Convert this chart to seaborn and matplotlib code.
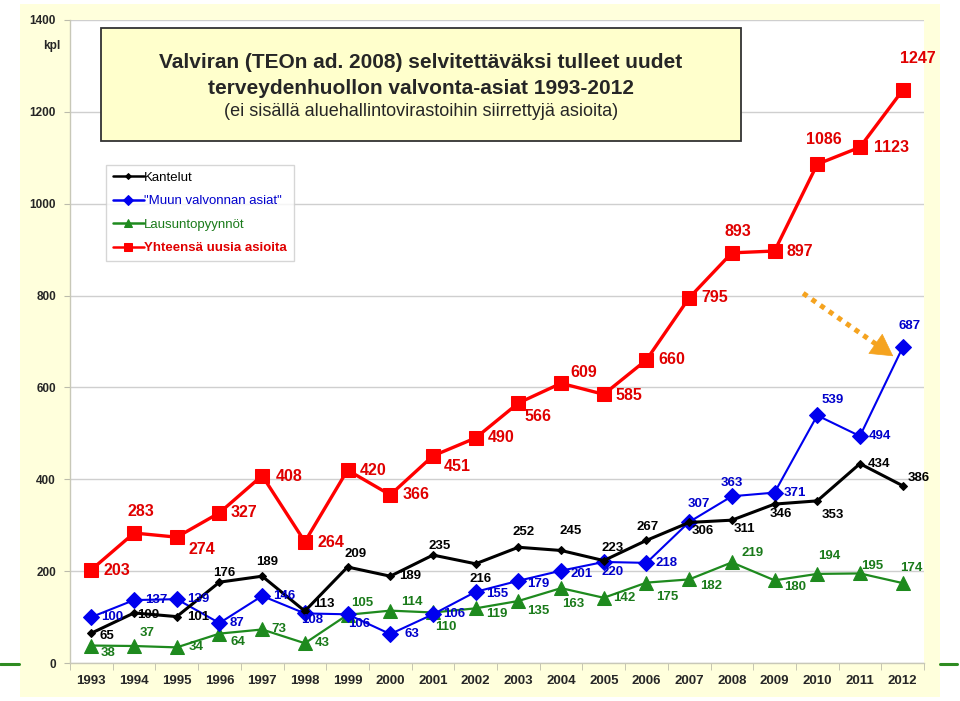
import numpy as np
import pandas as pd
import matplotlib
matplotlib.use('Agg')
import matplotlib.pyplot as plt
from matplotlib.patches import Rectangle
from matplotlib.lines import Line2D
import seaborn as sns


years = list(range(1993, 2013))
kantelut = [65, 109, 101, 176, 189, 113, 209, 189, 235, 216, 252, 245, 223, 267, 306, 311, 346, 353, 434, 386]
muun = [100, 137, 139, 87, 146, 108, 106, 63, 106, 155, 179, 201, 220, 218, 307, 363, 371, 539, 494, 687]
lausunto = [38, 37, 34, 64, 73, 43, 105, 114, 110, 119, 135, 163, 142, 175, 182, 219, 180, 194, 195, 174]
yhteensa = [203, 283, 274, 327, 408, 264, 420, 366, 451, 490, 566, 609, 585, 660, 795, 893, 897, 1086, 1123, 1247]

names = ['Kantelut', '"Muun valvonnan asiat"', 'Lausuntopyynnöt', 'Yhteensä uusia asioita']

title_lines = ['Valviran (TEOn ad. 2008) selvitettäväksi tulleet uudet',
               'terveydenhuollon valvonta-asiat 1993-2012',
               '(ei sisällä aluehallintovirastoihin siirrettyjä asioita)']

# label offsets in pixels (dx right, dy down) from each point
off_k = [(16, 3), (14, 2), (21, 0), (5, -9), (5, -14), (19, -7), (8, -13), (20, 0), (7, -9), (5, 15),
         (5, -15), (10, -19), (9, -13), (1, -13), (14, 9), (13, 9), (6, 10), (16, 14), (19, 0), (16, -8)]
off_m = [(21, 0), (22, 0), (22, 0), (18, 0), (22, 0), (7, 7), (12, 10), (22, 0), (21, 0), (22, 2),
         (20, 3), (21, 3), (9, 10), (20, 0), (10, -18), (0, -13), (20, 0), (15, -15), (20, 0), (7, -21)]
off_l = [(17, 7), (13, -13), (19, 0), (18, 8), (17, 0), (17, 0), (15, -12), (22, -9), (13, 15), (21, 6),
         (20, 10), (12, 16), (21, 0), (21, 14), (22, 7), (21, -9), (21, 7), (12, -18), (12, -7), (9, -15)]
off_y = [(26, 1), (7, -22), (25, 12), (25, 0), (27, 1), (26, 1), (26, 0), (26, 0), (24, 11), (25, 0),
         (20, 13), (23, -11), (25, 1), (25, 0), (26, 0), (6, -21), (25, 0), (7, -25), (32, 0), (15, -32)]

# orange hint arrow (data coords)
arrow_start = np.array([2009.67, 805])
arrow_end = np.array([2011.78, 668])
arrow_base = arrow_start + 0.83 * (arrow_end - arrow_start)

c_black = '#000000'; c_blue = '#0000EE'; c_green = '#1E8A1E'; c_red = '#FF0000'
t_blue = '#0000CC'; t_green = '#1A7A1A'; t_red = '#E00000'; c_orange = '#F5A31F'

sns.set_style('white')
plt.rcParams['font.family'] = ['Liberation Sans', 'DejaVu Sans']

W, H = 960, 701
fig = plt.figure(figsize=(9.6, 7.01), dpi=100)
fig.patch.set_facecolor('white')

# yellow frame behind everything
fig.add_artist(Rectangle((20 / W, 1 - 697 / H), 920 / W, 693 / H, transform=fig.transFigure,
                         facecolor='#FFFFDC', edgecolor='none', zorder=-2))
# small green decor strokes
fig.add_artist(Line2D([0, 19 / W], [1 - 664 / H] * 2, transform=fig.transFigure, color='#2E8B22', lw=2.2))
fig.add_artist(Line2D([940 / W, 957 / W], [1 - 664 / H] * 2, transform=fig.transFigure, color='#2E8B22', lw=2.2))

ax = fig.add_axes([70 / W, 1 - 663 / H, 854 / W, 643 / H])
ax.set_facecolor('white')

df = pd.DataFrame({'year': years, 'k': kantelut, 'm': muun, 'l': lausunto, 'y': yhteensa})

sns.lineplot(data=df, x='year', y='k', color=c_black, lw=2.2, marker='D', markersize=4,
             markeredgecolor=c_black, label=names[0], ax=ax, zorder=4)
sns.lineplot(data=df, x='year', y='m', color=c_blue, lw=1.5, marker='D', markersize=8,
             markeredgecolor=c_blue, label=names[1], ax=ax, zorder=3)
sns.lineplot(data=df, x='year', y='l', color=c_green, lw=1.6, marker='^', markersize=10,
             markeredgecolor=c_green, label=names[2], ax=ax, zorder=2)
sns.lineplot(data=df, x='year', y='y', color=c_red, lw=2.4, marker='s', markersize=10,
             markeredgecolor=c_red, label=names[3], ax=ax, zorder=5)

for vals, offs, col, size in [(kantelut, off_k, c_black, 9.5), (muun, off_m, t_blue, 9.5),
                              (lausunto, off_l, t_green, 9.5), (yhteensa, off_y, t_red, 11.5)]:
    for x, v, (dx, dy) in zip(years, vals, offs):
        ax.annotate(str(v), (x, v), xytext=(dx, -dy), textcoords='offset pixels',
                    ha='center', va='center', fontsize=size, fontweight='bold', color=col, zorder=6)

# dotted shaft + solid head
ax.plot([arrow_start[0], arrow_base[0]], [arrow_start[1], arrow_base[1]], color=c_orange, lw=3.6,
        linestyle=(0, (1, 1.1)), solid_capstyle='butt', dash_capstyle='butt', zorder=6)
ax.annotate('', xy=tuple(arrow_end), xytext=tuple(arrow_base),
            arrowprops=dict(arrowstyle='-|>,head_length=0.75,head_width=0.42', color=c_orange, lw=0.5,
                            mutation_scale=20, shrinkA=0, shrinkB=0), zorder=6)

ax.set_xlim(1992.5, 2012.5)
ax.set_ylim(0, 1400)
ax.set_xticks(years)
ax.set_xticklabels([str(y) for y in years], fontsize=9.5, fontweight='bold')
ax.set_xticks(np.arange(1992.5, 2013, 1), minor=True)
ax.set_yticks(range(0, 1401, 200))
ax.set_yticklabels([str(v) for v in range(0, 1401, 200)], fontsize=8.5, fontweight='bold')
ax.tick_params(axis='x', which='major', length=0, pad=9)
ax.tick_params(axis='x', which='minor', length=5, color='#BBBBAA', direction='out', bottom=True)
ax.tick_params(axis='y', length=4, color='#BBBBAA', direction='out', left=True, pad=6)
ax.set_xlabel(''); ax.set_ylabel('')
ax.yaxis.grid(True, color='#CFCFCF', lw=1)
ax.set_axisbelow(True)
for s in ['top', 'right']:
    ax.spines[s].set_visible(False)
for s in ['left', 'bottom']:
    ax.spines[s].set_color('#C8C8B8'); ax.spines[s].set_linewidth(1)

fig.text(52 / W, 1 - 46 / H, 'kpl', ha='center', va='center', fontsize=8.5, fontweight='bold')

# title box
fig.add_artist(Rectangle((101 / W, 1 - 141 / H), 640 / W, 113 / H, transform=fig.transFigure,
                         facecolor='#FFFFCC', edgecolor='#333333', lw=1.3, zorder=7))
fig.text(421 / W, 1 - 62 / H, title_lines[0], ha='center', va='center', fontsize=15, fontweight='bold', zorder=8)
fig.text(421 / W, 1 - 88 / H, title_lines[1], ha='center', va='center', fontsize=15, fontweight='bold', zorder=8)
fig.text(421 / W, 1 - 111 / H, title_lines[2], ha='center', va='center', fontsize=13, zorder=8)

leg = ax.legend(loc='upper left', bbox_to_anchor=(106 / W, 1 - 165 / H), bbox_transform=fig.transFigure,
                borderaxespad=0, fontsize=9.5, frameon=True, fancybox=False, edgecolor='#CCCCCC',
                handlelength=2.35, handletextpad=0.05, labelspacing=0.85, borderpad=0.5)
leg.get_frame().set_linewidth(1)
leg.set_zorder(9)
for h, ms in zip(leg.legend_handles, [3, 5, 6, 6]):
    h.set_markersize(ms)
    h.set_linewidth(1.8)
for t, c in zip(leg.get_texts(), [c_black, t_blue, t_green, t_red]):
    t.set_color(c)
leg.get_texts()[3].set_fontweight('bold')

fig.savefig('out.png', dpi=100)
